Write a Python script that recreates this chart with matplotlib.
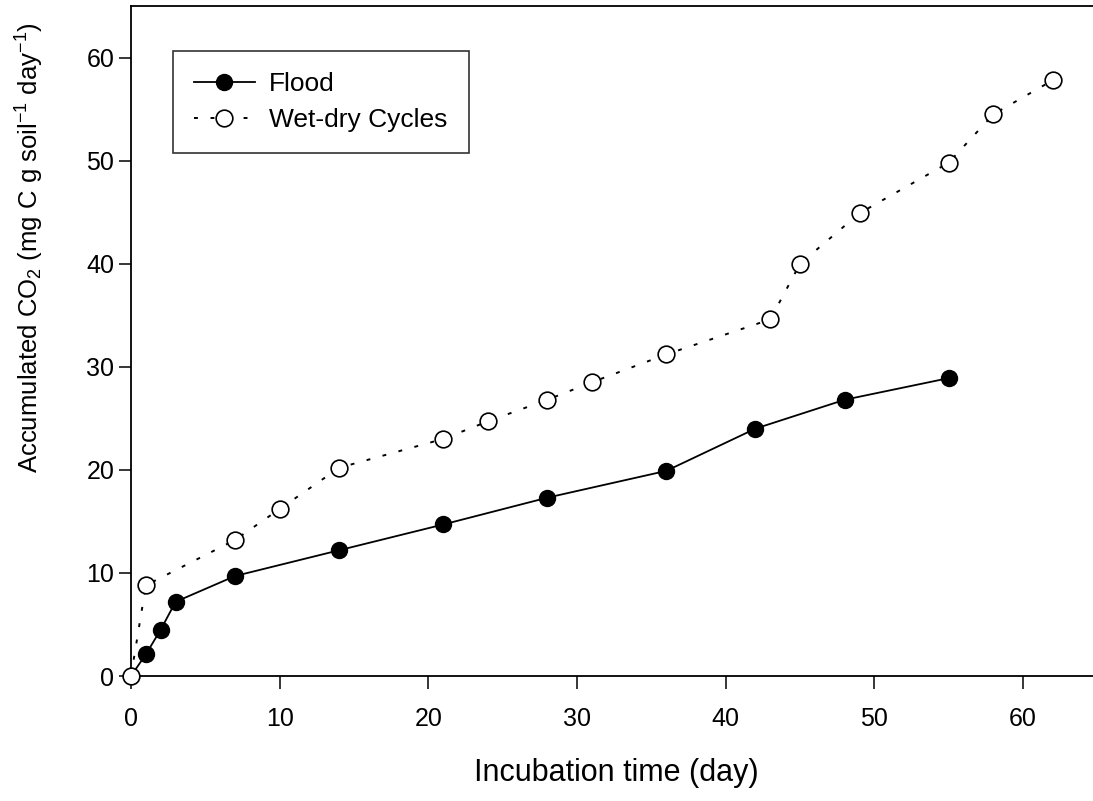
import numpy as np
import matplotlib
matplotlib.use('Agg')
import matplotlib.pyplot as plt

plt.rcParams['font.family'] = ['Liberation Sans', 'DejaVu Sans']
plt.rcParams['mathtext.fontset'] = 'custom'
plt.rcParams['mathtext.rm'] = 'Liberation Sans'
plt.rcParams['mathtext.it'] = 'Liberation Sans'
plt.rcParams['mathtext.default'] = 'regular'

# Flood treatment
flood_day = [0, 1, 2, 3, 7, 14, 21, 28, 36, 42, 48, 55]
flood_co2 = [0, 2.1, 4.5, 7.2, 9.7, 12.2, 14.7, 17.3, 19.9, 24.0, 26.8, 28.9]

# Wet-dry cycles treatment
wd_day = [0, 1, 7, 10, 14, 21, 24, 28, 31, 36, 43, 45, 49, 55, 58, 62]
wd_co2 = [0, 8.8, 13.2, 16.2, 20.2, 23.0, 24.7, 26.8, 28.5, 31.2, 34.6, 40.0,
          44.9, 49.8, 54.5, 57.8]

x_ticks = [0, 10, 20, 30, 40, 50, 60]
y_ticks = [0, 10, 20, 30, 40, 50, 60]

fig = plt.figure(figsize=(10.93, 8.01), dpi=100, facecolor='white')
ax = fig.add_axes([131 / 1093, 125 / 801, 962 / 1093, 670 / 801])

ax.plot(flood_day, flood_co2, color='black', linewidth=1.3, marker='o',
        markersize=11.5, markerfacecolor='black', markeredgecolor='black',
        label='Flood', clip_on=False, zorder=3)
ax.plot(wd_day, wd_co2, color='black', linewidth=1.4, linestyle=(0, (2, 6.5)),
        marker='o', markersize=12, markerfacecolor='white',
        markeredgecolor='black', markeredgewidth=1.2,
        label='Wet-dry Cycles', clip_on=False, zorder=4)

ax.set_xlim(0, 64.7)
ax.set_ylim(0, 65)
ax.set_xticks(x_ticks)
ax.set_yticks(y_ticks)
ax.tick_params(axis='both', direction='out', length=9, width=1.1,
               labelsize=18, color='black')
ax.tick_params(axis='x', pad=13)
ax.tick_params(axis='y', pad=3)

ax.spines['right'].set_visible(False)
for s in ['left', 'bottom', 'top']:
    ax.spines[s].set_linewidth(1.3)

ax.set_xlabel('Incubation time (day)', fontsize=22)
ax.set_ylabel('Accumulated CO$_2$ (mg C g soil$^{-1}$ day$^{-1}$)', fontsize=18.5)
ax.xaxis.set_label_coords(0.504, -0.123)
ax.yaxis.set_label_coords(-0.105, 0.64)
ax.yaxis.label.set_va('center')

leg = ax.legend(loc='upper left', bbox_to_anchor=(0.0437, 0.933), fontsize=19,
                frameon=True, fancybox=False, edgecolor='black',
                handlelength=2.3, borderpad=0.8, labelspacing=0.45,
                handletextpad=0.55, borderaxespad=0)
leg.get_frame().set_linewidth(1.2)

fig.savefig('out.png', dpi=100)
